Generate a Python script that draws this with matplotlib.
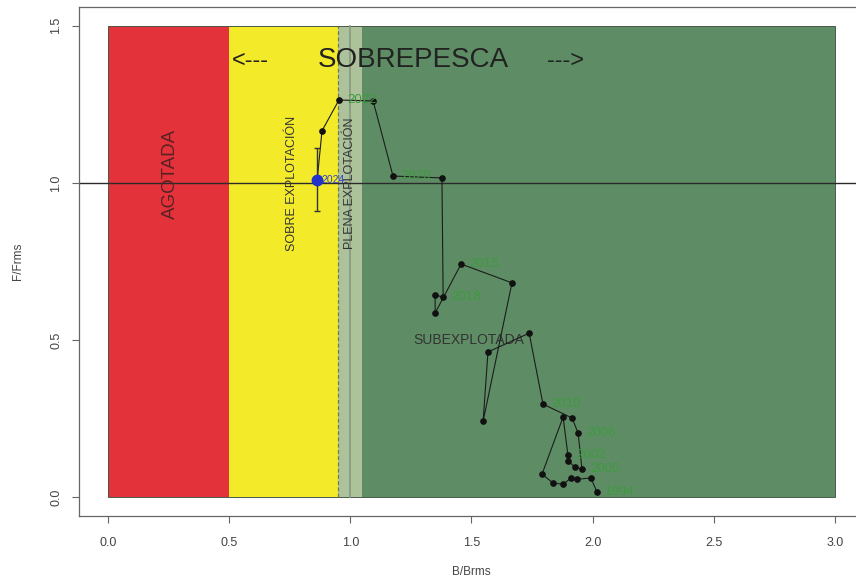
import matplotlib
matplotlib.use('Agg')
import matplotlib.pyplot as plt
from matplotlib.patches import Rectangle

plt.rcParams['font.family'] = ['Liberation Sans', 'DejaVu Sans']

# zones (B/Brms limits) and colours
zone_edges = [0.0, 0.5, 0.95, 1.05, 3.0]
zone_colors = ['#E3323A', '#F3EA2A', '#ADC29B', '#5E8D65']
f_top = 1.5

# trajectory B/Brms, F/Frms
b_brms = [2.018, 1.993, 1.936, 1.911, 1.878, 1.837, 1.791, 1.878, 1.898, 1.898,
          1.927, 1.956, 1.940, 1.915, 1.795, 1.738, 1.568, 1.548, 1.667, 1.457,
          1.350, 1.350, 1.383, 1.378, 1.176, 1.094, 0.953, 0.883]
f_frms = [0.016, 0.061, 0.057, 0.061, 0.041, 0.045, 0.073, 0.255, 0.134, 0.115,
          0.096, 0.089, 0.204, 0.252, 0.296, 0.522, 0.462, 0.242, 0.682, 0.742,
          0.586, 0.643, 0.637, 1.016, 1.022, 1.261, 1.264, 1.166]
point_labels = ['1994', '', '', '', '', '', '', '', '2002', '',
                '', '2005', '2006', '', '2010', '', '', '', '', '2015',
                '', '', '2018', '', '2020', '', '2022', '']

# last year estimate with uncertainty
last_b = 0.863
last_f = 1.010
last_f_low = 0.91
last_f_high = 1.11
last_label = '2024'

x_ticks = [0.0, 0.5, 1.0, 1.5, 2.0, 2.5, 3.0]
y_ticks = [0.0, 0.5, 1.0, 1.5]

fig = plt.figure(figsize=(8.56, 5.79), dpi=100)
ax = fig.add_axes([79/856, 1 - 516/579, 785/856, 509/579])
ax.set_xlim(-0.12, 3.12)
ax.set_ylim(-0.06, 1.56)

for i, c in enumerate(zone_colors):
    ax.add_patch(Rectangle((zone_edges[i], 0), zone_edges[i+1] - zone_edges[i], f_top,
                           facecolor=c, edgecolor='none', zorder=0))
ax.add_patch(Rectangle((zone_edges[0], 0), zone_edges[-1] - zone_edges[0], f_top,
                       facecolor='none', edgecolor='#4a5a4a', lw=0.7, zorder=1))
ax.plot([0.95, 0.95], [0, f_top], ls=(0, (3, 2)), color='#6d7a4a', lw=0.9, zorder=1)
ax.plot([1.0, 1.0], [0, f_top], color='#869a80', lw=1.2, zorder=1)
ax.axhline(1.0, color='#2a2a2a', lw=1.0, zorder=2)

# zone texts
ax.text(0.587, 1.39, '<---', fontsize=17, ha='center', va='center', color='#222222')
ax.text(1.26, 1.39, 'SOBREPESCA', fontsize=20, ha='center', va='center', color='#222222')
ax.text(1.89, 1.39, '--->', fontsize=17, ha='center', va='center', color='#222222')
ax.text(0.256, 1.03, 'AGOTADA', fontsize=13.5, rotation=90, ha='center', va='center', color='#5a2226')
ax.text(0.76, 1.0, 'SOBRE EXPLOTACIÓN', fontsize=9, rotation=90, ha='center', va='center', color='#333333')
ax.text(1.0, 1.0, 'PLENA EXPLOTACIÓN', fontsize=9, rotation=90, ha='center', va='center', color='#333333')
ax.text(1.49, 0.50, 'SUBEXPLOTADA', fontsize=10, ha='center', va='center', color='#333333')

# trajectory
ax.plot(b_brms + [last_b], f_frms + [last_f], '-', color='#1c1c1c', lw=0.8, zorder=3)
ax.plot(b_brms, f_frms, 'o', color='#111111', ms=3.8, zorder=4)
ax.errorbar([last_b], [last_f], yerr=[[last_f - last_f_low], [last_f_high - last_f]],
            fmt='none', ecolor='#333333', elinewidth=1.0, capsize=2, zorder=4)
ax.plot([last_b], [last_f], 'o', color='#2233CC', ms=7.5, zorder=5)
for b, f, lab in zip(b_brms, f_frms, point_labels):
    if lab:
        ax.annotate(lab, (b, f), xytext=(6, 0), textcoords='offset points',
                    ha='left', va='center', fontsize=9.5, color='#3E9A3E', zorder=6)
ax.annotate(last_label, (last_b, last_f), xytext=(3, 0), textcoords='offset points',
            ha='left', va='center', fontsize=7.5, color='#3344CC', zorder=6)

# axes
for s in ['top', 'left', 'bottom']:
    ax.spines[s].set_color('#666666')
    ax.spines[s].set_linewidth(0.9)
ax.spines['right'].set_visible(False)
ax.set_xticks(x_ticks)
ax.set_xticklabels(['%.1f' % v for v in x_ticks])
ax.set_yticks(y_ticks)
ax.set_yticklabels(['%.1f' % v for v in y_ticks], rotation=90, va='center')
ax.tick_params(axis='both', length=5, width=0.8, color='#666666', labelsize=9, labelcolor='#444444')
ax.tick_params(axis='x', pad=10)
ax.tick_params(axis='y', pad=7)
ax.text(0.5, -0.110, 'B/Brms', transform=ax.transAxes, ha='center', va='center', fontsize=8.5, color='#444444')
ax.text(-0.0777, 0.5, 'F/Frms', transform=ax.transAxes, ha='center', va='center', rotation=90, fontsize=8.5, color='#444444')

fig.savefig('out.png', dpi=100)
